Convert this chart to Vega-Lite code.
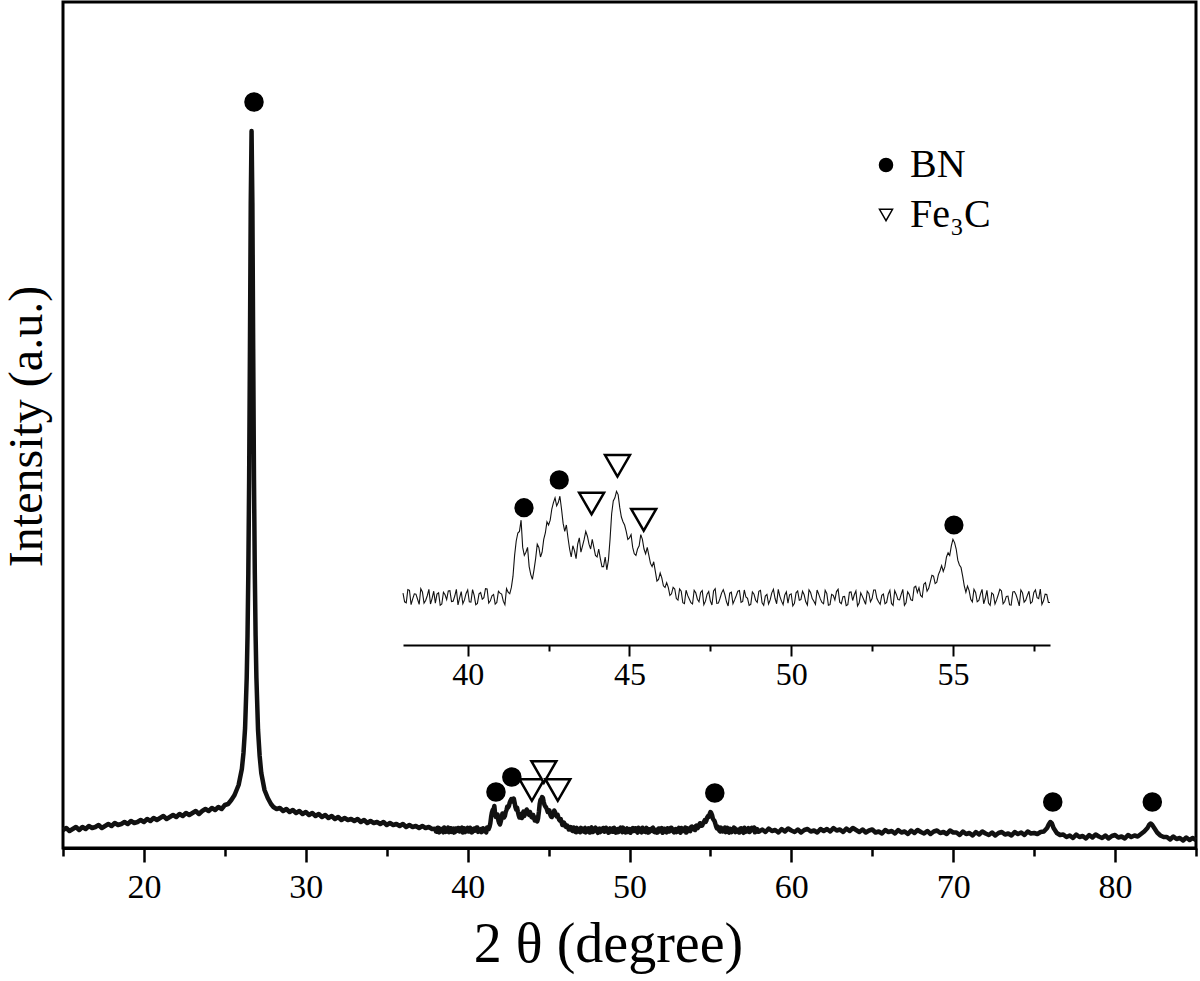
{
"$schema": "https://vega.github.io/schema/vega-lite/v6.json",
"width": 1133, "height": 846,
"autosize": {"type": "none"},
"padding": {"left": 63, "top": 2, "right": 4, "bottom": 133},
"background": "white",
"config": {"view": {"stroke": "black", "strokeWidth": 3}, "font": "Liberation Serif"},
"datasets": {
"xrd": [
{"theta":15,"counts":18},{"theta":15.2,"counts":20},{"theta":15.4,"counts":17},{"theta":15.6,"counts":19},{"theta":15.8,"counts":21},{"theta":16,"counts":18},{"theta":16.2,"counts":21},{"theta":16.4,"counts":19},{"theta":16.6,"counts":22},{"theta":16.8,"counts":20},
{"theta":17,"counts":21},{"theta":17.2,"counts":23},{"theta":17.4,"counts":20},{"theta":17.6,"counts":22},{"theta":17.8,"counts":24},{"theta":18,"counts":22},{"theta":18.2,"counts":25},{"theta":18.4,"counts":23},{"theta":18.6,"counts":24},{"theta":18.8,"counts":26},
{"theta":19,"counts":24},{"theta":19.2,"counts":27},{"theta":19.4,"counts":25},{"theta":19.6,"counts":26},{"theta":19.8,"counts":28},{"theta":20,"counts":26},{"theta":20.2,"counts":29},{"theta":20.4,"counts":27},{"theta":20.6,"counts":30},{"theta":20.8,"counts":28},
{"theta":21,"counts":30},{"theta":21.2,"counts":32},{"theta":21.4,"counts":29},{"theta":21.6,"counts":31},{"theta":21.8,"counts":33},{"theta":22,"counts":31},{"theta":22.2,"counts":34},{"theta":22.4,"counts":32},{"theta":22.6,"counts":35},{"theta":22.8,"counts":33},
{"theta":23,"counts":35},{"theta":23.2,"counts":37},{"theta":23.4,"counts":34},{"theta":23.6,"counts":37},{"theta":23.8,"counts":39},{"theta":24,"counts":37},{"theta":24.2,"counts":40},{"theta":24.4,"counts":38},{"theta":24.6,"counts":41},{"theta":24.8,"counts":39},
{"theta":25,"counts":43},{"theta":25.2,"counts":44},{"theta":25.4,"counts":48},{"theta":25.6,"counts":53},{"theta":25.85,"counts":63},{"theta":26.05,"counts":79},{"theta":26.15,"counts":95},{"theta":26.25,"counts":120},{"theta":26.35,"counts":170},{"theta":26.4,"counts":212},
{"theta":26.45,"counts":275},{"theta":26.5,"counts":368},{"theta":26.55,"counts":499},{"theta":26.6,"counts":645},{"theta":26.65,"counts":717},{"theta":26.7,"counts":645},{"theta":26.75,"counts":499},{"theta":26.8,"counts":368},{"theta":26.85,"counts":275},{"theta":26.9,"counts":212},
{"theta":26.95,"counts":170},{"theta":27.05,"counts":118},{"theta":27.15,"counts":92},{"theta":27.25,"counts":75},{"theta":27.45,"counts":58},{"theta":27.65,"counts":50},{"theta":27.85,"counts":44},{"theta":28,"counts":41},{"theta":28.2,"counts":39},{"theta":28.4,"counts":40},
{"theta":28.6,"counts":37},{"theta":28.8,"counts":39},{"theta":29,"counts":36},{"theta":29.2,"counts":38},{"theta":29.4,"counts":35},{"theta":29.6,"counts":37},{"theta":29.8,"counts":34},{"theta":30,"counts":36},{"theta":30.2,"counts":33},{"theta":30.4,"counts":35},
{"theta":30.6,"counts":32},{"theta":30.8,"counts":34},{"theta":31,"counts":31},{"theta":31.2,"counts":33},{"theta":31.4,"counts":30},{"theta":31.6,"counts":32},{"theta":31.8,"counts":29},{"theta":32,"counts":31},{"theta":32.2,"counts":28},{"theta":32.4,"counts":30},
{"theta":32.6,"counts":28},{"theta":32.8,"counts":29},{"theta":33,"counts":27},{"theta":33.2,"counts":29},{"theta":33.4,"counts":26},{"theta":33.6,"counts":28},{"theta":33.8,"counts":25},{"theta":34,"counts":27},{"theta":34.2,"counts":25},{"theta":34.4,"counts":26},
{"theta":34.6,"counts":24},{"theta":34.8,"counts":26},{"theta":35,"counts":23},{"theta":35.2,"counts":25},{"theta":35.4,"counts":23},{"theta":35.6,"counts":24},{"theta":35.8,"counts":22},{"theta":36,"counts":24},{"theta":36.2,"counts":21},{"theta":36.4,"counts":23},
{"theta":36.6,"counts":21},{"theta":36.8,"counts":22},{"theta":37,"counts":20},{"theta":37.2,"counts":22},{"theta":37.4,"counts":20},{"theta":37.6,"counts":21},{"theta":37.8,"counts":19},
{"theta":38,"counts":19.2},{"theta":38.1,"counts":16.2},{"theta":38.2,"counts":20.1},{"theta":38.3,"counts":17.4},{"theta":38.4,"counts":18.9},{"theta":38.5,"counts":15.7},{"theta":38.6,"counts":19.6},{"theta":38.7,"counts":16.9},{"theta":38.8,"counts":20.4},{"theta":38.9,"counts":17.6},
{"theta":39,"counts":16.1},{"theta":39.1,"counts":19.3},{"theta":39.2,"counts":15.8},{"theta":39.3,"counts":18.7},{"theta":39.4,"counts":19.9},{"theta":39.5,"counts":16.6},{"theta":39.6,"counts":18.3},{"theta":39.7,"counts":15.5},{"theta":39.8,"counts":19.7},{"theta":39.9,"counts":17.1},
{"theta":40,"counts":20.2},{"theta":40.1,"counts":16.4},{"theta":40.2,"counts":18.5},{"theta":40.3,"counts":16.0},{"theta":40.4,"counts":19.4},{"theta":40.5,"counts":17.8},{"theta":40.6,"counts":20.5},{"theta":40.7,"counts":16.8},{"theta":40.8,"counts":18.8},{"theta":40.9,"counts":16.3},
{"theta":41,"counts":19.2},{"theta":41.1,"counts":16.7},{"theta":41.2,"counts":20.6},{"theta":41.3,"counts":19.0},{"theta":41.4,"counts":24.5},{"theta":41.5,"counts":35.5},{"theta":41.6,"counts":38.5},{"theta":41.7,"counts":33.5},{"theta":41.8,"counts":32.0},{"theta":41.9,"counts":27.5},
{"theta":42,"counts":23.5},{"theta":42.1,"counts":30.0},{"theta":42.2,"counts":33.5},{"theta":42.3,"counts":32.0},{"theta":42.4,"counts":38.0},{"theta":42.5,"counts":40.5},{"theta":42.6,"counts":45.5},{"theta":42.7,"counts":49.0},{"theta":42.8,"counts":47.5},{"theta":42.9,"counts":45.5},
{"theta":43,"counts":38.5},{"theta":43.1,"counts":36.5},{"theta":43.2,"counts":30.5},{"theta":43.3,"counts":32.5},{"theta":43.4,"counts":34.5},{"theta":43.5,"counts":32.0},{"theta":43.6,"counts":36.0},{"theta":43.7,"counts":37.0},{"theta":43.8,"counts":33.0},{"theta":43.9,"counts":33.5},
{"theta":44,"counts":30.5},{"theta":44.1,"counts":30.0},{"theta":44.2,"counts":27.5},{"theta":44.3,"counts":26.5},{"theta":44.4,"counts":36.0},{"theta":44.5,"counts":48.0},{"theta":44.6,"counts":51.0},{"theta":44.7,"counts":46.0},{"theta":44.8,"counts":41.5},{"theta":44.9,"counts":38.5},
{"theta":45,"counts":36.5},{"theta":45.1,"counts":33.5},{"theta":45.2,"counts":31.0},{"theta":45.3,"counts":34.0},{"theta":45.4,"counts":36.0},{"theta":45.5,"counts":31.5},{"theta":45.6,"counts":31.0},{"theta":45.7,"counts":27.5},{"theta":45.8,"counts":26.0},{"theta":45.9,"counts":23.5},
{"theta":46,"counts":24.0},{"theta":46.1,"counts":21.0},{"theta":46.2,"counts":21.0},{"theta":46.3,"counts":19.0},{"theta":46.4,"counts":20.5},{"theta":46.5,"counts":17.0},{"theta":46.6,"counts":19.8},{"theta":46.7,"counts":15.9},{"theta":46.8,"counts":18.5},{"theta":46.9,"counts":16.2},
{"theta":47,"counts":20.1},{"theta":47.1,"counts":17.3},{"theta":47.2,"counts":19.4},{"theta":47.3,"counts":15.6},{"theta":47.4,"counts":18.9},{"theta":47.5,"counts":16.8},{"theta":47.6,"counts":19.9},{"theta":47.7,"counts":16.0},{"theta":47.8,"counts":17.6},{"theta":47.9,"counts":20.3},
{"theta":48,"counts":16.5},{"theta":48.1,"counts":19.2},{"theta":48.2,"counts":15.9},{"theta":48.3,"counts":18.4},{"theta":48.4,"counts":20.0},{"theta":48.5,"counts":16.6},{"theta":48.6,"counts":18.0},{"theta":48.7,"counts":15.4},{"theta":48.8,"counts":19.6},{"theta":48.9,"counts":17.0},
{"theta":49,"counts":19.8},{"theta":49.1,"counts":16.2},{"theta":49.2,"counts":18.3},{"theta":49.3,"counts":15.8},{"theta":49.4,"counts":19.3},{"theta":49.5,"counts":17.6},{"theta":49.6,"counts":20.4},{"theta":49.7,"counts":16.7},{"theta":49.8,"counts":18.6},{"theta":49.9,"counts":16.1},
{"theta":50,"counts":19.0},{"theta":50.1,"counts":16.0},{"theta":50.2,"counts":19.9},{"theta":50.3,"counts":17.2},{"theta":50.4,"counts":18.7},{"theta":50.5,"counts":15.5},{"theta":50.6,"counts":19.4},{"theta":50.7,"counts":16.7},{"theta":50.8,"counts":20.2},{"theta":50.9,"counts":17.4},
{"theta":51,"counts":15.9},{"theta":51.1,"counts":19.1},{"theta":51.2,"counts":15.6},{"theta":51.3,"counts":18.5},{"theta":51.4,"counts":19.7},{"theta":51.5,"counts":16.4},{"theta":51.6,"counts":18.1},{"theta":51.7,"counts":15.3},{"theta":51.8,"counts":19.5},{"theta":51.9,"counts":16.9},
{"theta":52,"counts":19.9},{"theta":52.1,"counts":16.1},{"theta":52.2,"counts":18.2},{"theta":52.3,"counts":15.7},{"theta":52.4,"counts":19.1},{"theta":52.5,"counts":17.5},{"theta":52.6,"counts":20.2},{"theta":52.7,"counts":16.5},{"theta":52.8,"counts":18.5},{"theta":52.9,"counts":15.9},
{"theta":53,"counts":18.9},{"theta":53.1,"counts":16.0},{"theta":53.2,"counts":20.0},{"theta":53.3,"counts":17.2},{"theta":53.4,"counts":18.8},{"theta":53.5,"counts":15.4},{"theta":53.6,"counts":19.6},{"theta":53.7,"counts":17.1},{"theta":53.8,"counts":21.0},{"theta":53.9,"counts":19.4},
{"theta":54,"counts":18.5},{"theta":54.1,"counts":22.0},{"theta":54.2,"counts":19.8},{"theta":54.3,"counts":22.7},{"theta":54.4,"counts":24.5},{"theta":54.5,"counts":22.6},{"theta":54.6,"counts":26.2},{"theta":54.7,"counts":26.0},{"theta":54.8,"counts":30.5},{"theta":54.9,"counts":31.0},
{"theta":55,"counts":36.0},{"theta":55.1,"counts":33.0},{"theta":55.2,"counts":28.0},{"theta":55.3,"counts":24.5},{"theta":55.4,"counts":19.5},{"theta":55.5,"counts":20.0},{"theta":55.6,"counts":16.5},{"theta":55.7,"counts":19.4},{"theta":55.8,"counts":16.9},{"theta":55.9,"counts":20.4},
{"theta":56,"counts":17.6},{"theta":56.1,"counts":16.1},{"theta":56.2,"counts":19.3},{"theta":56.3,"counts":15.8},{"theta":56.4,"counts":18.7},{"theta":56.5,"counts":19.9},{"theta":56.6,"counts":16.6},{"theta":56.7,"counts":18.3},{"theta":56.8,"counts":15.5},{"theta":56.9,"counts":19.7},
{"theta":57,"counts":17.1},{"theta":57.1,"counts":20.2},{"theta":57.2,"counts":16.4},{"theta":57.3,"counts":18.5},{"theta":57.4,"counts":16.0},{"theta":57.5,"counts":19.4},{"theta":57.6,"counts":17.8},{"theta":57.7,"counts":20.5},{"theta":57.8,"counts":16.8},{"theta":57.9,"counts":18.8},
{"theta":58,"counts":16.3},
{"theta":38.05,"counts":16.5},{"theta":38.15,"counts":20.3},{"theta":38.25,"counts":15.6},{"theta":38.35,"counts":19.0},{"theta":38.45,"counts":17.3},{"theta":38.55,"counts":20.6},{"theta":38.65,"counts":16.1},{"theta":38.75,"counts":18.4},{"theta":38.85,"counts":15.8},{"theta":38.95,"counts":19.8},
{"theta":39.05,"counts":18.9},{"theta":39.15,"counts":15.4},{"theta":39.25,"counts":19.5},{"theta":39.35,"counts":17.2},{"theta":39.45,"counts":20.0},{"theta":39.55,"counts":16.7},{"theta":39.65,"counts":20.4},{"theta":39.75,"counts":17.7},{"theta":39.85,"counts":15.9},{"theta":39.95,"counts":19.1},
{"theta":40.05,"counts":16.5},{"theta":40.15,"counts":20.3},{"theta":40.25,"counts":15.6},{"theta":40.35,"counts":19.0},{"theta":40.45,"counts":17.3},{"theta":40.55,"counts":20.6},{"theta":40.65,"counts":16.1},{"theta":40.75,"counts":18.4},{"theta":40.85,"counts":15.8},{"theta":40.95,"counts":19.8},
{"theta":41.05,"counts":18.9},{"theta":41.15,"counts":15.6},{"theta":41.25,"counts":19.5},{"theta":41.35,"counts":21.0},{"theta":41.45,"counts":31.0},{"theta":41.55,"counts":38.0},{"theta":41.65,"counts":42.0},{"theta":41.75,"counts":31.0},{"theta":41.85,"counts":33.5},{"theta":41.95,"counts":25.0},
{"theta":42.05,"counts":26.5},{"theta":42.15,"counts":34.5},{"theta":42.25,"counts":30.5},{"theta":42.35,"counts":36.0},{"theta":42.45,"counts":41.5},{"theta":42.55,"counts":42.0},{"theta":42.65,"counts":47.5},{"theta":42.75,"counts":46.5},{"theta":42.85,"counts":49.5},{"theta":42.95,"counts":41.0},
{"theta":43.05,"counts":40.5},{"theta":43.15,"counts":33.0},{"theta":43.25,"counts":34.0},{"theta":43.35,"counts":30.0},{"theta":43.45,"counts":36.5},{"theta":43.55,"counts":34.0},{"theta":43.65,"counts":38.5},{"theta":43.75,"counts":34.5},{"theta":43.85,"counts":36.0},{"theta":43.95,"counts":31.0},
{"theta":44.05,"counts":33.0},{"theta":44.15,"counts":27.5},{"theta":44.25,"counts":30.5},{"theta":44.35,"counts":29.5},{"theta":44.45,"counts":44.0},{"theta":44.55,"counts":49.0},{"theta":44.65,"counts":50.0},{"theta":44.75,"counts":43.0},{"theta":44.85,"counts":40.5},{"theta":44.95,"counts":36.0},
{"theta":45.05,"counts":37.5},{"theta":45.15,"counts":31.5},{"theta":45.25,"counts":33.0},{"theta":45.35,"counts":37.5},{"theta":45.45,"counts":33.0},{"theta":45.55,"counts":33.5},{"theta":45.65,"counts":28.5},{"theta":45.75,"counts":29.0},{"theta":45.85,"counts":23.0},{"theta":45.95,"counts":25.5},
{"theta":46.05,"counts":21.5},{"theta":46.15,"counts":22.5},{"theta":46.25,"counts":18.5},{"theta":46.35,"counts":21.0},{"theta":46.45,"counts":17.5},{"theta":46.55,"counts":20.5},{"theta":46.65,"counts":16.2},{"theta":46.75,"counts":20.1},{"theta":46.85,"counts":17.4},{"theta":46.95,"counts":15.8},
{"theta":47.05,"counts":19.3},{"theta":47.15,"counts":16.5},{"theta":47.25,"counts":20.0},{"theta":47.35,"counts":16.7},{"theta":47.45,"counts":19.7},{"theta":47.55,"counts":15.5},{"theta":47.65,"counts":20.6},{"theta":47.75,"counts":16.1},{"theta":47.85,"counts":19.3},{"theta":47.95,"counts":18.7},
{"theta":48.05,"counts":15.2},{"theta":48.15,"counts":19.5},{"theta":48.25,"counts":17.1},{"theta":48.35,"counts":19.8},{"theta":48.45,"counts":16.3},{"theta":48.55,"counts":20.2},{"theta":48.65,"counts":17.6},{"theta":48.75,"counts":15.7},{"theta":48.85,"counts":18.9},{"theta":48.95,"counts":16.3},
{"theta":49.05,"counts":20.1},{"theta":49.15,"counts":15.4},{"theta":49.25,"counts":18.8},{"theta":49.35,"counts":17.1},{"theta":49.45,"counts":20.4},{"theta":49.55,"counts":15.9},{"theta":49.65,"counts":18.2},{"theta":49.75,"counts":15.6},{"theta":49.85,"counts":19.6},{"theta":49.95,"counts":18.7},
{"theta":50.05,"counts":15.2},{"theta":50.15,"counts":19.3},{"theta":50.25,"counts":17.0},{"theta":50.35,"counts":19.8},{"theta":50.45,"counts":16.5},{"theta":50.55,"counts":20.2},{"theta":50.65,"counts":17.5},{"theta":50.75,"counts":15.7},{"theta":50.85,"counts":18.9},{"theta":50.95,"counts":16.3},
{"theta":51.05,"counts":20.1},{"theta":51.15,"counts":15.4},{"theta":51.25,"counts":18.8},{"theta":51.35,"counts":17.1},{"theta":51.45,"counts":20.4},{"theta":51.55,"counts":15.9},{"theta":51.65,"counts":18.2},{"theta":51.75,"counts":15.6},{"theta":51.85,"counts":19.6},{"theta":51.95,"counts":18.7},
{"theta":52.05,"counts":15.2},{"theta":52.15,"counts":19.3},{"theta":52.25,"counts":17.0},{"theta":52.35,"counts":19.8},{"theta":52.45,"counts":16.5},{"theta":52.55,"counts":20.2},{"theta":52.65,"counts":17.5},{"theta":52.75,"counts":15.7},{"theta":52.85,"counts":18.9},{"theta":52.95,"counts":16.3},
{"theta":53.05,"counts":20.1},{"theta":53.15,"counts":15.4},{"theta":53.25,"counts":18.8},{"theta":53.35,"counts":17.1},{"theta":53.45,"counts":20.4},{"theta":53.55,"counts":16.2},{"theta":53.65,"counts":18.8},{"theta":53.75,"counts":16.9},{"theta":53.85,"counts":21.4},{"theta":53.95,"counts":20.9},
{"theta":54.05,"counts":18.0},{"theta":54.15,"counts":22.5},{"theta":54.25,"counts":20.7},{"theta":54.35,"counts":24.8},{"theta":54.45,"counts":22.2},{"theta":54.55,"counts":25.0},{"theta":54.65,"counts":27.8},{"theta":54.75,"counts":27.4},{"theta":54.85,"counts":31.8},{"theta":54.95,"counts":34.0},
{"theta":55.05,"counts":35.0},{"theta":55.15,"counts":29.5},{"theta":55.25,"counts":27.2},{"theta":55.35,"counts":21.5},{"theta":55.45,"counts":21.4},{"theta":55.55,"counts":17.3},{"theta":55.65,"counts":20.4},{"theta":55.75,"counts":16.5},{"theta":55.85,"counts":18.9},{"theta":55.95,"counts":15.9},
{"theta":56.05,"counts":20.1},{"theta":56.15,"counts":15.4},{"theta":56.25,"counts":18.8},{"theta":56.35,"counts":17.1},{"theta":56.45,"counts":20.4},{"theta":56.55,"counts":15.9},{"theta":56.65,"counts":18.2},{"theta":56.75,"counts":15.6},{"theta":56.85,"counts":19.6},{"theta":56.95,"counts":18.7},
{"theta":57.05,"counts":15.2},{"theta":57.15,"counts":19.3},{"theta":57.25,"counts":17.0},{"theta":57.35,"counts":19.8},{"theta":57.45,"counts":16.5},{"theta":57.55,"counts":20.2},{"theta":57.65,"counts":17.5},{"theta":57.75,"counts":15.7},{"theta":57.85,"counts":18.9},{"theta":57.95,"counts":16.3},
{"theta":58.2,"counts":18.5},{"theta":58.4,"counts":16},{"theta":58.6,"counts":19.5},{"theta":58.8,"counts":17},{"theta":59,"counts":18},{"theta":59.2,"counts":15.5},{"theta":59.4,"counts":19},{"theta":59.6,"counts":16.5},{"theta":59.8,"counts":19.5},{"theta":60,"counts":17.5},
{"theta":60.2,"counts":16},{"theta":60.4,"counts":18.5},{"theta":60.6,"counts":15.5},{"theta":60.8,"counts":18},{"theta":61,"counts":19},{"theta":61.2,"counts":16.5},{"theta":61.4,"counts":17.5},{"theta":61.6,"counts":15.5},{"theta":61.8,"counts":19},{"theta":62,"counts":17},
{"theta":62.2,"counts":19},{"theta":62.4,"counts":16.5},{"theta":62.6,"counts":20},{"theta":62.8,"counts":17.5},{"theta":63,"counts":18.5},{"theta":63.2,"counts":16},{"theta":63.4,"counts":19.5},{"theta":63.6,"counts":17},{"theta":63.8,"counts":20},{"theta":64,"counts":18},
{"theta":64.2,"counts":16},{"theta":64.4,"counts":18.5},{"theta":64.6,"counts":15.5},{"theta":64.8,"counts":17.5},{"theta":65,"counts":18.5},{"theta":65.2,"counts":15.5},{"theta":65.4,"counts":16.5},{"theta":65.6,"counts":14.5},{"theta":65.8,"counts":18},{"theta":66,"counts":16},
{"theta":66.2,"counts":17},{"theta":66.4,"counts":14.5},{"theta":66.6,"counts":18},{"theta":66.8,"counts":15.5},{"theta":67,"counts":16.5},{"theta":67.2,"counts":14},{"theta":67.4,"counts":17.5},{"theta":67.6,"counts":15},{"theta":67.8,"counts":18},{"theta":68,"counts":16},
{"theta":68.2,"counts":14.5},{"theta":68.4,"counts":17},{"theta":68.6,"counts":14},{"theta":68.8,"counts":16.5},{"theta":69,"counts":17.5},{"theta":69.2,"counts":15},{"theta":69.4,"counts":16},{"theta":69.6,"counts":14},{"theta":69.8,"counts":17.5},{"theta":70,"counts":15.5},
{"theta":70.2,"counts":15.5},{"theta":70.4,"counts":13},{"theta":70.6,"counts":16.5},{"theta":70.8,"counts":14},{"theta":71,"counts":15},{"theta":71.2,"counts":12.5},{"theta":71.4,"counts":16},{"theta":71.6,"counts":13.5},{"theta":71.8,"counts":16.5},{"theta":72,"counts":14.5},
{"theta":72.2,"counts":13},{"theta":72.4,"counts":15.5},{"theta":72.6,"counts":12.5},{"theta":72.8,"counts":15},{"theta":73,"counts":16},{"theta":73.2,"counts":13.5},{"theta":73.4,"counts":14.5},{"theta":73.6,"counts":12.5},{"theta":73.8,"counts":16},{"theta":74,"counts":14},
{"theta":74.2,"counts":15.5},{"theta":74.4,"counts":13},{"theta":74.6,"counts":16.5},{"theta":74.8,"counts":14.5},{"theta":75,"counts":15},{"theta":75.2,"counts":14},{"theta":75.4,"counts":16},{"theta":75.6,"counts":16.5},{"theta":75.8,"counts":20},{"theta":75.9,"counts":23.5},
{"theta":76,"counts":26},{"theta":76.1,"counts":24.5},{"theta":76.2,"counts":20},{"theta":76.4,"counts":15},{"theta":76.6,"counts":13},{"theta":76.8,"counts":13.5},{"theta":77,"counts":11},{"theta":77.2,"counts":12.5},{"theta":77.4,"counts":10},{"theta":77.6,"counts":13.5},
{"theta":77.8,"counts":11},{"theta":78,"counts":12},{"theta":78.2,"counts":9.5},{"theta":78.4,"counts":13},{"theta":78.6,"counts":10.5},{"theta":78.8,"counts":13.5},{"theta":79,"counts":11.5},{"theta":79.2,"counts":10},{"theta":79.4,"counts":12.5},{"theta":79.6,"counts":9.5},
{"theta":79.8,"counts":12},{"theta":80,"counts":13},{"theta":80.2,"counts":10.5},{"theta":80.4,"counts":11.5},{"theta":80.6,"counts":9.5},{"theta":80.8,"counts":13},{"theta":81,"counts":11},{"theta":81.2,"counts":12.5},{"theta":81.4,"counts":11.5},{"theta":81.6,"counts":14},
{"theta":81.8,"counts":16.5},{"theta":82,"counts":20},{"theta":82.1,"counts":23},{"theta":82.2,"counts":24.5},{"theta":82.3,"counts":23},{"theta":82.4,"counts":20.5},{"theta":82.6,"counts":15.5},{"theta":82.8,"counts":12.5},{"theta":83,"counts":11},{"theta":83.2,"counts":11},
{"theta":83.4,"counts":8.5},{"theta":83.6,"counts":11.5},{"theta":83.8,"counts":9},{"theta":84,"counts":10},{"theta":84.2,"counts":7.5},{"theta":84.4,"counts":10.5},{"theta":84.6,"counts":8},{"theta":84.8,"counts":10},{"theta":85,"counts":8}
],
"peaks_main": [
{"theta":26.8,"counts":746,"phase":"BN"},{"theta":41.75,"counts":56,"phase":"BN"},{"theta":42.73,"counts":71,"phase":"BN"},{"theta":55.27,"counts":55,"phase":"BN"},{"theta":76.15,"counts":46,"phase":"BN"},{"theta":82.3,"counts":46,"phase":"BN"},
{"theta":43.97,"counts":58,"phase":"Fe₃C"},{"theta":44.71,"counts":76,"phase":"Fe₃C"},{"theta":45.57,"counts":58,"phase":"Fe₃C"}
],
"peaks_inset": [
{"theta":41.74,"counts":45.9,"phase":"BN"},{"theta":42.83,"counts":54.6,"phase":"BN"},{"theta":55.03,"counts":40.5,"phase":"BN"},
{"theta":43.83,"counts":47.2,"phase":"Fe₃C"},{"theta":44.63,"counts":59.0,"phase":"Fe₃C"},{"theta":45.44,"counts":42.1,"phase":"Fe₃C"}
]
},
"layer": [
{
"layer": [
{"data": {"name": "xrd"},
 "mark": {"type": "line", "color": "#111111", "strokeWidth": 4.5, "strokeJoin": "round"},
 "encoding": {
  "x": {"field": "theta", "type": "quantitative",
        "scale": {"domain": [15, 85], "nice": false, "zero": false},
        "axis": {"title": "2 θ (degree)", "values": [15,20,25,30,35,40,45,50,55,60,65,70,75,80,85],
                 "labelExpr": "datum.value % 10 === 0 ? format(datum.value, 'd') : ''",
                 "tickSize": {"condition": {"test": "datum.value % 10 === 0", "value": 14}, "value": 8},
                 "tickWidth": 2.5, "tickColor": "black", "domainColor": "black", "domainWidth": 3,
                 "labelFont": "Liberation Serif", "labelFontSize": 34, "labelColor": "black", "labelPadding": 8,
                 "labelFlush": false, "labelOverlap": false, "grid": false,
                 "titleFont": "Liberation Serif", "titleFontSize": 56, "titleFontWeight": "normal", "titleColor": "black",
                 "titleX": 545, "titleY": 96, "titleBaseline": "middle", "titleAlign": "center"}},
  "y": {"field": "counts", "type": "quantitative",
        "scale": {"domain": [0, 846], "nice": false, "zero": false},
        "axis": {"title": "Intensity (a.u.)", "labels": false, "ticks": false, "domain": false, "grid": false,
                 "titleFont": "Liberation Serif", "titleFontSize": 48, "titleFontWeight": "normal", "titleColor": "black",
                 "titleX": -36, "titleY": 424, "titleAngle": -90, "titleBaseline": "middle", "titleAlign": "center"}}
 }},
{"data": {"name": "peaks_main"}, "transform": [{"filter": "datum.phase === 'BN'"}],
 "mark": {"type": "point", "size": 290, "strokeWidth": 2.5, "opacity": 1},
 "encoding": {
  "x": {"field": "theta", "type": "quantitative"},
  "y": {"field": "counts", "type": "quantitative"},
  "shape": {"field": "phase", "type": "nominal", "scale": {"domain": ["BN", "Fe₃C"], "range": ["circle", "triangle-down"]},
            "legend": {"title": null, "orient": "none", "legendX": 803, "legendY": 143, "labelFont": "Liberation Serif", "labelFontSize": 40, "labelColor": "black",
                       "symbolSize": 170, "symbolStrokeWidth": 1.5, "symbolOpacity": 1, "rowPadding": 10, "labelOffset": 4}},
  "fill": {"field": "phase", "type": "nominal", "scale": {"domain": ["BN", "Fe₃C"], "range": ["black", "white"]}},
  "stroke": {"field": "phase", "type": "nominal", "scale": {"domain": ["BN", "Fe₃C"], "range": ["black", "black"]}}
 }},
{"data": {"name": "peaks_main"}, "transform": [{"filter": "datum.phase !== 'BN'"}],
 "mark": {"type": "point", "size": 620, "strokeWidth": 2.5, "opacity": 1},
 "encoding": {
  "x": {"field": "theta", "type": "quantitative"},
  "y": {"field": "counts", "type": "quantitative"},
  "shape": {"field": "phase", "type": "nominal"},
  "fill": {"field": "phase", "type": "nominal"},
  "stroke": {"field": "phase", "type": "nominal"}
 }}
]
},
{
"layer": [
{"data": {"name": "xrd"}, "transform": [{"filter": "datum.theta >= 38 && datum.theta <= 58"}],
 "mark": {"type": "line", "color": "#111111", "strokeWidth": 1.1},
 "encoding": {
  "x": {"field": "theta", "type": "quantitative",
        "scale": {"domain": [38, 58], "range": [340, 987], "nice": false, "zero": false},
        "axis": {"title": null, "orient": "bottom", "offset": -203, "values": [40,42.5,45,47.5,50,52.5,55,57.5],
                 "labelExpr": "datum.value % 5 === 0 ? format(datum.value, 'd') : ''",
                 "tickSize": {"condition": {"test": "datum.value % 5 === 0", "value": 11}, "value": 6},
                 "tickWidth": 2, "tickColor": "black", "domainColor": "black", "domainWidth": 2,
                 "labelFont": "Liberation Serif", "labelFontSize": 32, "labelColor": "black", "labelPadding": 3,
                 "labelFlush": false, "labelOverlap": false, "grid": false}},
  "y": {"field": "counts", "type": "quantitative",
        "scale": {"domain": [0, 100], "range": [652.6, 332.6], "nice": false, "zero": false},
        "axis": null}
 }},
{"data": {"name": "peaks_inset"}, "transform": [{"filter": "datum.phase === 'BN'"}],
 "mark": {"type": "point", "size": 280, "strokeWidth": 2.5, "opacity": 1},
 "encoding": {
  "x": {"field": "theta", "type": "quantitative"},
  "y": {"field": "counts", "type": "quantitative"},
  "shape": {"field": "phase", "type": "nominal"},
  "fill": {"field": "phase", "type": "nominal"},
  "stroke": {"field": "phase", "type": "nominal"}
 }},
{"data": {"name": "peaks_inset"}, "transform": [{"filter": "datum.phase !== 'BN'"}],
 "mark": {"type": "point", "size": 620, "strokeWidth": 2.5, "opacity": 1},
 "encoding": {
  "x": {"field": "theta", "type": "quantitative"},
  "y": {"field": "counts", "type": "quantitative"},
  "shape": {"field": "phase", "type": "nominal"},
  "fill": {"field": "phase", "type": "nominal"},
  "stroke": {"field": "phase", "type": "nominal"}
 }}
]
}
],
"resolve": {"scale": {"x": "independent", "y": "independent"}, "axis": {"x": "independent", "y": "independent"}}
}
